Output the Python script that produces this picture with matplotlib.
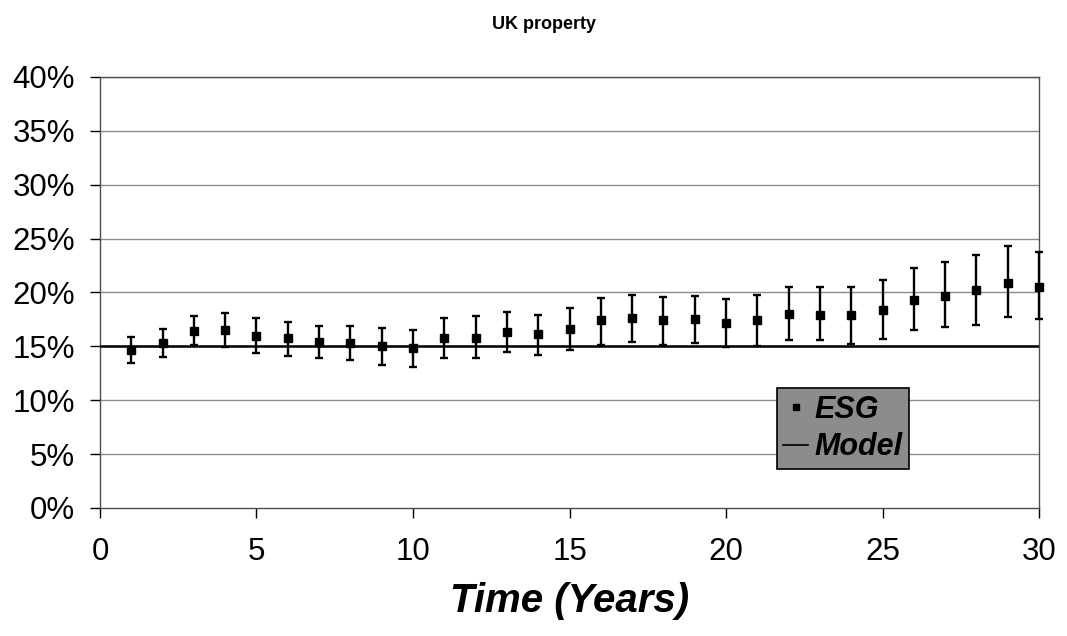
import numpy as np
import matplotlib
matplotlib.use('Agg')
import matplotlib.pyplot as plt
from matplotlib.lines import Line2D

plt.rcParams['font.family'] = ['Liberation Sans', 'DejaVu Sans']

# ESG simulation: mean and band (in %) per projection year
years = [1, 2, 3, 4, 5, 6, 7, 8, 9, 10, 11, 12, 13, 14, 15,
         16, 17, 18, 19, 20, 21, 22, 23, 24, 25, 26, 27, 28, 29, 30]
esg_mid = [14.7, 15.3, 16.4, 16.5, 16.0, 15.8, 15.4, 15.3, 15.0, 14.8,
           15.8, 15.8, 16.3, 16.1, 16.6, 17.4, 17.6, 17.4, 17.5, 17.2,
           17.4, 18.0, 17.9, 17.9, 18.4, 19.3, 19.7, 20.2, 20.9, 20.5]
esg_hi = [15.9, 16.6, 17.8, 18.1, 17.6, 17.3, 16.9, 16.9, 16.7, 16.5,
          17.6, 17.8, 18.2, 17.9, 18.6, 19.5, 19.8, 19.6, 19.7, 19.4,
          19.8, 20.5, 20.5, 20.5, 21.2, 22.3, 22.8, 23.5, 24.3, 23.8]
esg_lo = [13.5, 14.0, 15.1, 14.9, 14.4, 14.1, 13.9, 13.7, 13.3, 13.1,
          13.9, 13.9, 14.5, 14.2, 14.7, 15.1, 15.4, 15.1, 15.3, 14.9,
          15.0, 15.6, 15.6, 15.2, 15.7, 16.5, 16.8, 17.0, 17.7, 17.5]

# model volatility (flat)
model_t = [0, 30]
model_pct = [15.0, 15.0]

y_ticks = [0, 5, 10, 15, 20, 25, 30, 35, 40]
y_labels = ['0%', '5%', '10%', '15%', '20%', '25%', '30%', '35%', '40%']
x_ticks = [0, 5, 10, 15, 20, 25, 30]


fig = plt.figure(figsize=(10.67, 6.36), dpi=100, facecolor='w')
ax = fig.add_axes([0.0937, 0.2013, 0.8801, 0.6777])

for y in y_ticks[1:]:
    ax.axhline(y, color='0.55', linewidth=1.0, zorder=1)

ax.plot(model_t, model_pct, color='k', linewidth=1.8, zorder=3)

mid = np.array(esg_mid)
err = [mid - np.array(esg_lo), np.array(esg_hi) - mid]
ax.errorbar(years, mid, yerr=err, fmt='s', color='k', markersize=5.5,
            elinewidth=1.7, capsize=3.2, capthick=1.7, zorder=4, clip_on=False)

ax.set_xlim(0, 30)
ax.set_ylim(0, 40)
ax.set_xticks(x_ticks)
ax.set_yticks(y_ticks)
ax.set_yticklabels(y_labels)
ax.tick_params(axis='x', direction='out', length=7, width=1, pad=14, labelsize=22.5)
ax.tick_params(axis='y', direction='out', length=7, width=1, pad=11, labelsize=22.5)
for s in ax.spines.values():
    s.set_linewidth(1.0)
    s.set_color('0.3')

ax.set_xlabel('Time (Years)', fontsize=29, fontweight='bold', style='italic', labelpad=11)
fig.text(0.51, 0.961, 'UK property', ha='center', va='center', fontsize=13, fontweight='bold')

handles = [Line2D([], [], marker='s', color='k', linestyle='none', markersize=5),
           Line2D([], [], color='k', linewidth=1.2)]
leg = ax.legend(handles, ['ESG', 'Model'], loc='lower left', bbox_to_anchor=(0.7207, 0.0905),
                fancybox=False, framealpha=1, borderpad=0.22, handlelength=0.8,
                handletextpad=0.2, labelspacing=0.25, borderaxespad=0,
                prop={'size': 22, 'style': 'italic', 'weight': 'bold'})
leg.get_frame().set_facecolor('#8c8c8c')
leg.get_frame().set_edgecolor('k')
leg.get_frame().set_linewidth(1.2)

fig.savefig('out.png', dpi=100)
